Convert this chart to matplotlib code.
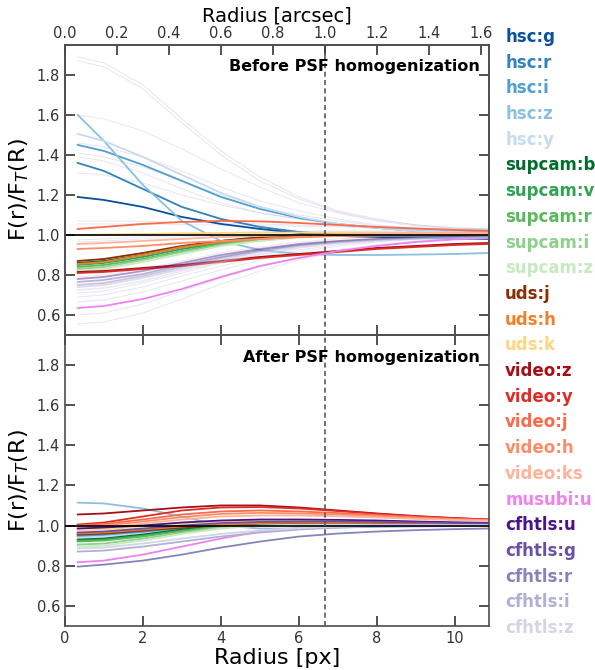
import numpy as np
import matplotlib
matplotlib.use('Agg')
import matplotlib.pyplot as plt

radius_px = [0.33, 1, 2, 3, 4, 5, 6, 7, 8, 9, 10, 10.87]
px_scale = 0.15  # arcsec per px
r_aperture = 1.0 / px_scale  # 1 arcsec in px

bands = ['hsc:g', 'hsc:r', 'hsc:i', 'hsc:z', 'hsc:y',
         'supcam:b', 'supcam:v', 'supcam:r', 'supcam:i', 'supcam:z',
         'uds:j', 'uds:h', 'uds:k',
         'video:z', 'video:y', 'video:j', 'video:h', 'video:ks',
         'musubi:u',
         'cfhtls:u', 'cfhtls:g', 'cfhtls:r', 'cfhtls:i', 'cfhtls:z']

colors = ['#08519c', '#3182bd', '#4f9fd0', '#8cc0e0', '#c6dbef',
          '#006d2c', '#31a354', '#5cb85c', '#8fd08a', '#c7e9c0',
          '#8c2d04', '#f0802a', '#fed580',
          '#a50f15', '#de2d26', '#fb6a4a', '#fc8d6a', '#fcb49a',
          '#ee82ee',
          '#4a1486', '#6a51a3', '#8683bd', '#b0afd6', '#d4d4e8']

# ---- before PSF homogenization ----
before = {
    'hsc:g': [1.19, 1.175, 1.14, 1.09, 1.055, 1.03, 1.01, 0.995, 0.99, 0.985, 0.982, 0.98],
    'hsc:r': [1.36, 1.32, 1.23, 1.14, 1.08, 1.04, 1.015, 1.0, 0.995, 0.99, 0.99, 0.99],
    'hsc:i': [1.45, 1.42, 1.35, 1.27, 1.19, 1.13, 1.085, 1.055, 1.035, 1.02, 1.01, 1.005],
    'hsc:z': [1.6, 1.47, 1.25, 1.07, 0.97, 0.925, 0.905, 0.9, 0.9, 0.902, 0.905, 0.91],
    'hsc:y': [1.505, 1.47, 1.39, 1.30, 1.21, 1.14, 1.09, 1.055, 1.035, 1.02, 1.012, 1.008],
    'supcam:b': [0.86, 0.87, 0.9, 0.94, 0.97, 0.99, 1.0, 1.005, 1.008, 1.01, 1.01, 1.01],
    'supcam:v': [0.85, 0.86, 0.89, 0.93, 0.96, 0.985, 0.997, 1.003, 1.006, 1.008, 1.008, 1.008],
    'supcam:r': [0.84, 0.85, 0.88, 0.92, 0.955, 0.98, 0.995, 1.002, 1.005, 1.007, 1.007, 1.007],
    'supcam:i': [0.83, 0.84, 0.875, 0.915, 0.95, 0.975, 0.99, 1.0, 1.004, 1.006, 1.006, 1.006],
    'supcam:z': [0.82, 0.83, 0.865, 0.905, 0.945, 0.97, 0.987, 0.998, 1.003, 1.005, 1.005, 1.005],
    'uds:j': [0.87, 0.88, 0.91, 0.945, 0.97, 0.985, 0.993, 0.997, 0.999, 1.0, 1.0, 1.0],
    'uds:h': [0.855, 0.865, 0.9, 0.94, 0.965, 0.98, 0.99, 0.995, 0.997, 0.998, 0.999, 1.0],
    'uds:k': [1.0, 1.002, 1.005, 1.008, 1.01, 1.012, 1.012, 1.012, 1.011, 1.01, 1.008, 1.007],
    'video:z': [0.815, 0.82, 0.835, 0.85, 0.87, 0.89, 0.905, 0.92, 0.935, 0.945, 0.955, 0.96],
    'video:y': [0.81, 0.815, 0.83, 0.845, 0.865, 0.885, 0.9, 0.915, 0.93, 0.94, 0.95, 0.955],
    'video:j': [1.03, 1.04, 1.055, 1.065, 1.07, 1.068, 1.06, 1.05, 1.04, 1.032, 1.025, 1.02],
    'video:h': [0.93, 0.935, 0.945, 0.96, 0.97, 0.98, 0.99, 0.995, 0.998, 1.0, 1.0, 1.0],
    'video:ks': [0.955, 0.96, 0.97, 0.98, 0.99, 0.995, 1.0, 1.005, 1.008, 1.01, 1.01, 1.01],
    'musubi:u': [0.635, 0.645, 0.68, 0.73, 0.79, 0.845, 0.885, 0.92, 0.945, 0.965, 0.978, 0.985],
    'cfhtls:u': [0.78, 0.79, 0.82, 0.86, 0.9, 0.93, 0.955, 0.97, 0.98, 0.985, 0.99, 0.99],
    'cfhtls:g': [0.765, 0.775, 0.805, 0.85, 0.89, 0.925, 0.95, 0.967, 0.978, 0.984, 0.988, 0.99],
    'cfhtls:r': [0.75, 0.76, 0.795, 0.84, 0.885, 0.92, 0.947, 0.965, 0.976, 0.983, 0.987, 0.99],
    'cfhtls:i': [0.74, 0.75, 0.785, 0.83, 0.875, 0.915, 0.943, 0.962, 0.974, 0.982, 0.986, 0.988],
    'cfhtls:z': [0.725, 0.735, 0.77, 0.82, 0.865, 0.905, 0.937, 0.958, 0.971, 0.98, 0.985, 0.988],
}

# faint background curves (top panel only)
faint_before = [
    [1.89, 1.86, 1.75, 1.58, 1.42, 1.29, 1.19, 1.12, 1.08, 1.05, 1.035, 1.03],
    [1.87, 1.84, 1.73, 1.56, 1.40, 1.27, 1.18, 1.115, 1.075, 1.05, 1.035, 1.03],
    [1.6, 1.58, 1.52, 1.43, 1.33, 1.24, 1.16, 1.11, 1.07, 1.045, 1.03, 1.025],
    [1.46, 1.44, 1.39, 1.32, 1.24, 1.17, 1.12, 1.08, 1.05, 1.035, 1.025, 1.02],
    [1.41, 1.39, 1.34, 1.27, 1.2, 1.14, 1.1, 1.07, 1.045, 1.03, 1.02, 1.018],
    [1.39, 1.37, 1.31, 1.23, 1.16, 1.11, 1.08, 1.055, 1.04, 1.03, 1.02, 1.015],
    [1.31, 1.3, 1.26, 1.2, 1.15, 1.11, 1.08, 1.055, 1.04, 1.028, 1.02, 1.015],
    [1.07, 1.07, 1.068, 1.065, 1.06, 1.055, 1.05, 1.045, 1.04, 1.035, 1.03, 1.027],
    [1.055, 1.055, 1.055, 1.052, 1.05, 1.047, 1.043, 1.04, 1.035, 1.03, 1.027, 1.025],
    [0.975, 0.98, 0.99, 1.0, 1.01, 1.015, 1.018, 1.02, 1.02, 1.02, 1.018, 1.017],
    [0.965, 0.97, 0.98, 0.99, 1.0, 1.008, 1.013, 1.015, 1.016, 1.016, 1.015, 1.014],
    [0.79, 0.8, 0.83, 0.87, 0.91, 0.94, 0.965, 0.98, 0.99, 0.995, 0.998, 1.0],
    [0.71, 0.72, 0.76, 0.81, 0.86, 0.9, 0.935, 0.96, 0.975, 0.985, 0.99, 0.993],
    [0.69, 0.7, 0.74, 0.795, 0.845, 0.89, 0.925, 0.952, 0.97, 0.982, 0.988, 0.991],
    [0.665, 0.675, 0.715, 0.77, 0.825, 0.875, 0.915, 0.945, 0.965, 0.978, 0.985, 0.99],
    [0.6, 0.61, 0.655, 0.72, 0.785, 0.84, 0.89, 0.925, 0.952, 0.97, 0.98, 0.985],
    [0.555, 0.565, 0.61, 0.68, 0.755, 0.82, 0.875, 0.915, 0.945, 0.965, 0.977, 0.983],
]

# ---- after PSF homogenization ----
after = {
    'hsc:g': [0.96, 0.965, 0.975, 0.99, 1.0, 1.005, 1.007, 1.008, 1.008, 1.007, 1.006, 1.005],
    'hsc:r': [0.95, 0.955, 0.97, 0.985, 0.997, 1.004, 1.007, 1.008, 1.008, 1.007, 1.006, 1.005],
    'hsc:i': [0.945, 0.95, 0.965, 0.98, 0.993, 1.0, 1.004, 1.006, 1.006, 1.006, 1.005, 1.005],
    'hsc:z': [1.114, 1.11, 1.085, 1.045, 1.0, 0.985, 0.985, 0.99, 0.993, 0.995, 0.997, 0.998],
    'hsc:y': [0.94, 0.945, 0.96, 0.978, 0.99, 0.998, 1.003, 1.005, 1.005, 1.005, 1.004, 1.004],
    'supcam:b': [0.93, 0.935, 0.955, 0.98, 1.0, 1.01, 1.015, 1.016, 1.016, 1.015, 1.013, 1.012],
    'supcam:v': [0.925, 0.93, 0.95, 0.975, 0.997, 1.008, 1.013, 1.015, 1.015, 1.014, 1.012, 1.011],
    'supcam:r': [0.92, 0.925, 0.945, 0.972, 0.995, 1.006, 1.012, 1.014, 1.014, 1.013, 1.011, 1.01],
    'supcam:i': [0.905, 0.91, 0.935, 0.965, 0.99, 1.003, 1.01, 1.012, 1.012, 1.011, 1.01, 1.009],
    'supcam:z': [0.895, 0.9, 0.925, 0.958, 0.985, 1.0, 1.008, 1.011, 1.011, 1.01, 1.009, 1.008],
    'uds:j': [0.955, 0.96, 0.975, 0.99, 1.002, 1.01, 1.013, 1.014, 1.013, 1.012, 1.01, 1.009],
    'uds:h': [0.96, 0.965, 0.98, 0.995, 1.005, 1.012, 1.015, 1.015, 1.014, 1.013, 1.011, 1.01],
    'uds:k': [0.975, 0.98, 0.995, 1.01, 1.02, 1.025, 1.025, 1.023, 1.02, 1.017, 1.014, 1.012],
    'video:z': [1.055, 1.06, 1.075, 1.09, 1.1, 1.1, 1.09, 1.075, 1.06, 1.047, 1.037, 1.03],
    'video:y': [1.005, 1.015, 1.045, 1.075, 1.09, 1.092, 1.085, 1.072, 1.058, 1.046, 1.036, 1.03],
    'video:j': [1.0, 1.008, 1.03, 1.055, 1.07, 1.075, 1.07, 1.062, 1.052, 1.042, 1.033, 1.028],
    'video:h': [0.995, 1.0, 1.02, 1.042, 1.058, 1.063, 1.06, 1.055, 1.047, 1.038, 1.03, 1.026],
    'video:ks': [0.985, 0.99, 1.01, 1.03, 1.045, 1.05, 1.05, 1.046, 1.04, 1.033, 1.027, 1.024],
    'musubi:u': [0.817, 0.825, 0.855, 0.895, 0.935, 0.97, 0.988, 0.996, 1.0, 1.002, 1.003, 1.003],
    'cfhtls:u': [0.985, 0.99, 1.0, 1.015, 1.025, 1.03, 1.03, 1.028, 1.025, 1.02, 1.016, 1.013],
    'cfhtls:g': [0.965, 0.97, 0.985, 1.0, 1.012, 1.018, 1.02, 1.02, 1.018, 1.015, 1.012, 1.01],
    'cfhtls:r': [0.795, 0.805, 0.825, 0.855, 0.89, 0.92, 0.945, 0.96, 0.97, 0.977, 0.982, 0.985],
    'cfhtls:i': [0.87, 0.875, 0.895, 0.92, 0.945, 0.965, 0.98, 0.99, 0.995, 0.998, 1.0, 1.0],
    'cfhtls:z': [0.885, 0.89, 0.91, 0.935, 0.958, 0.975, 0.987, 0.994, 0.998, 1.0, 1.001, 1.001],
}

## Figure
fig = plt.figure(figsize=(5.95, 6.7), dpi=100)
ax1 = fig.add_axes([0.109, 0.5, 0.713, 0.433])
ax2 = fig.add_axes([0.109, 0.066, 0.713, 0.434], sharex=ax1)

dark = '0.2'


def style_axis(ax):
    ax.set_xlim(0, 10.87)
    ax.set_ylim(0.5, 1.95)
    ax.set_yticks([0.6, 0.8, 1.0, 1.2, 1.4, 1.6, 1.8])
    ax.set_xticks([0, 2, 4, 6, 8, 10])
    ax.tick_params(direction='in', length=7, width=1.2, colors=dark,
                   labelsize=10.5, right=True, top=True)
    for s in ax.spines.values():
        s.set_color('0.3')
        s.set_linewidth(1.2)
    ax.axhline(1.0, color='k', lw=1.2, zorder=5)
    ax.axvline(r_aperture, color='0.35', ls=(0, (3, 2)), lw=1.2, zorder=6)
    ax.set_ylabel(r'F(r)/F$_T$(R)', fontsize=16, color='k')


for f in faint_before:
    ax1.plot(radius_px, f, color='#8683bd', lw=0.7, alpha=0.2)

for band, c in zip(bands, colors):
    lw = 1.3
    alpha = 0.45 if band.startswith('cfhtls') else 1.0
    ax1.plot(radius_px, before[band], color=c, lw=lw, alpha=alpha)
    ax2.plot(radius_px, after[band], color=c, lw=lw)

style_axis(ax1)
style_axis(ax2)
ax1.tick_params(labelbottom=False, top=False)
ax2.set_xlabel('Radius [px]', fontsize=16, labelpad=2)

# top axis in arcsec
ax_top = ax1.twiny()
ax_top.set_xlim(0, 10.87 * px_scale)
ax_top.set_xticks([0.0, 0.2, 0.4, 0.6, 0.8, 1.0, 1.2, 1.4, 1.6])
ax_top.xaxis.set_major_formatter(matplotlib.ticker.FormatStrFormatter('%.1f'))
ax_top.tick_params(direction='in', length=7, width=1.2, colors=dark,
                   labelsize=10.5, pad=3)
ax_top.set_xlabel('Radius [arcsec]', fontsize=14, labelpad=3)
for s in ax_top.spines.values():
    s.set_color('0.3')
    s.set_linewidth(1.2)

ax1.text(0.979, 0.924, 'Before PSF homogenization', transform=ax1.transAxes,
         ha='right', va='center', fontsize=11.5, fontweight='bold', zorder=10)
ax2.text(0.979, 0.924, 'After PSF homogenization', transform=ax2.transAxes,
         ha='right', va='center', fontsize=11.5, fontweight='bold', zorder=10)

# coloured band names on the right
y_top, y_bot = 1 - 37 / 670, 1 - 628 / 670
ys = np.linspace(y_top, y_bot, len(bands) - 1)
names = [b for b in bands]
text_colors = list(colors)
# one name per row; 23 rows in the original (hsc:y ... cfhtls:z)
for i, (name, c) in enumerate(zip(names[:len(ys)], text_colors[:len(ys)])):
    pass

label_ys = np.linspace(y_top, y_bot, len(bands))
for name, c, y in zip(bands, colors, label_ys):
    fig.text(0.849, y, name, color=c, fontsize=12, fontweight='bold',
             va='center', ha='left')

fig.savefig('out.png', dpi=100)
